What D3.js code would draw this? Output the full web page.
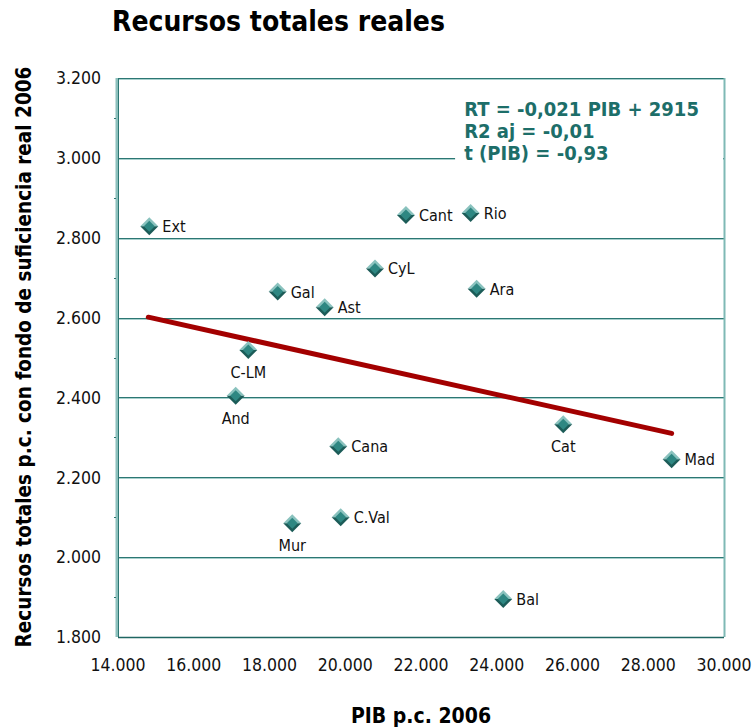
<!DOCTYPE html>
<html>
<head>
<meta charset="utf-8">
<script src="https://cdn.jsdelivr.net/npm/d3@7"></script>
<style>
  body { margin: 0; background: #fff; }
  svg text { font-family: "DejaVu Sans Condensed", "DejaVu Sans", sans-serif; }
</style>
</head>
<body>
<div id="chart"></div>
<script>
// regions (comunidades autónomas)
var regions = ["Ext", "Gal", "Ast", "C-LM", "And", "Cana", "CyL", "Cant", "Rio", "Ara", "Cat", "Mad", "Mur", "C.Val", "Bal"];
var pib     = [14826, 18216, 19457, 17440, 17107, 19816, 20785, 21603, 23311, 23469, 25756, 28617, 18601, 19879, 24172];
var recursos = [2829, 2665, 2626, 2519, 2404, 2278, 2723, 2857, 2862, 2672, 2333, 2245, 2085, 2100, 1895];
var labelBelow = ["C-LM", "And", "Cat", "Mur"];
// regression line ends
var trendX = [14800, 28617];
var trendY = [2601, 2310];
var xTicks = [14000, 16000, 18000, 20000, 22000, 24000, 26000, 28000, 30000];
var yTicks = [1800, 2000, 2200, 2400, 2600, 2800, 3000, 3200];
var eqLines = ["RT = -0,021 PIB + 2915", "R2 aj = -0,01", "t (PIB) = -0,93"];

var data = regions.map(function (r, i) { return { name: r, x: pib[i], y: recursos[i] }; });

var W = 753, H = 728,
    margin = { top: 78, right: 29, bottom: 91, left: 118 },
    width = W - margin.left - margin.right,
    height = H - margin.top - margin.bottom;

var svg = d3.select("#chart").append("svg")
    .attr("width", W)
    .attr("height", H);

var g = svg.append("g")
    .attr("transform", "translate(" + margin.left + "," + margin.top + ")");

var x = d3.scaleLinear().domain([14000, 30000]).range([0, width]);
var y = d3.scaleLinear().domain([1800, 3200]).range([height, 0]);
var fmt = function (v) { return d3.format(",.3f")(v / 1000).replace(",", "."); };

// grid lines (dark line with a light shadow under it)
yTicks.forEach(function (t) {
    if (t == 1800) return;
    g.append("line")
        .attr("x1", 0).attr("x2", width)
        .attr("y1", Math.round(y(t)) + 1.5).attr("y2", Math.round(y(t)) + 1.5)
        .attr("stroke", "#a8d0cd").attr("stroke-width", 1);
    g.append("line")
        .attr("x1", 0).attr("x2", width)
        .attr("y1", Math.round(y(t)) + 0.5).attr("y2", Math.round(y(t)) + 0.5)
        .attr("stroke", "#2c7773").attr("stroke-width", 1);
});

// frame
g.append("line").attr("x1", width + 0.5).attr("x2", width + 0.5).attr("y1", 0).attr("y2", height)
    .attr("stroke", "#7fb9b5").attr("stroke-width", 2);
g.append("line").attr("x1", -1).attr("x2", -1).attr("y1", 0).attr("y2", height)
    .attr("stroke", "#8cc0bc").attr("stroke-width", 3);
g.append("line").attr("x1", 0.5).attr("x2", 0.5).attr("y1", 0).attr("y2", height)
    .attr("stroke", "#2c7773").attr("stroke-width", 1);
g.append("line").attr("x1", 0).attr("x2", width).attr("y1", Math.round(y(1800)) + 0.5).attr("y2", Math.round(y(1800)) + 0.5)
    .attr("stroke", "#1f6662").attr("stroke-width", 1.5);

// small minor ticks on the left axis
d3.range(1900, 3200, 200).forEach(function (t) {
    g.append("line").attr("x1", -4).attr("x2", -2)
        .attr("y1", Math.round(y(t)) + 0.5).attr("y2", Math.round(y(t)) + 0.5)
        .attr("stroke", "#2c7773");
});

// axis tick labels
g.append("g").selectAll("text").data(yTicks).enter().append("text")
    .attr("x", -17).attr("y", function (d) { return y(d); })
    .attr("dy", "0.36em")
    .attr("text-anchor", "end")
    .style("font-size", "17.5px")
    .attr("fill", "#111")
    .text(fmt);

g.append("g").selectAll("text").data(xTicks).enter().append("text")
    .attr("x", function (d) { return x(d); }).attr("y", height + 34)
    .attr("text-anchor", "middle")
    .style("font-size", "17.5px")
    .attr("fill", "#111")
    .text(fmt);

// equation box
var eq = g.append("g");
eq.append("rect")
    .attr("x", x(22900)).attr("y", 16).attr("width", width - x(22900) - 1).attr("height", 74)
    .attr("fill", "#fff");
eq.selectAll("text").data(eqLines).enter().append("text")
    .attr("x", x(23140)).attr("y", function (d, i) { return 38 + i * 22; })
    .style("font-size", "20px").style("font-weight", "bold")
    .attr("fill", "#1d6e69")
    .text(function (d) { return d; });

// trend line
g.append("line")
    .attr("x1", x(trendX[0])).attr("y1", y(trendY[0]))
    .attr("x2", x(trendX[1])).attr("y2", y(trendY[1]))
    .attr("stroke", "#a30000").attr("stroke-width", 5).attr("stroke-linecap", "round");

// points (beveled diamonds)
var s = 9;
var pts = g.append("g").selectAll("g").data(data).enter().append("g")
    .attr("transform", function (d) { return "translate(" + x(d.x) + "," + y(d.y) + ")"; });
pts.append("path").attr("d", "M" + (-s) + ",0L0," + (-s) + "L" + s + ",0Z").attr("fill", "#8ac2be");
pts.append("path").attr("d", "M" + (-s) + ",0L0," + s + "L" + s + ",0Z").attr("fill", "#1c5c58");
pts.append("path").attr("d", "M-5.5,0L0,-5.5L5.5,0L0,5.5Z").attr("fill", "#2e8782");

pts.append("text")
    .attr("x", function (d) { return labelBelow.indexOf(d.name) >= 0 ? 0 : 13; })
    .attr("y", function (d) { return labelBelow.indexOf(d.name) >= 0 ? 28 : 6; })
    .attr("text-anchor", function (d) { return labelBelow.indexOf(d.name) >= 0 ? "middle" : "start"; })
    .style("font-size", "16px")
    .attr("fill", "#111")
    .text(function (d) { return d.name; });

// titles
svg.append("text")
    .attr("x", 112).attr("y", 31)
    .style("font-size", "28px").style("font-weight", "bold")
    .attr("fill", "#000")
    .text("Recursos totales reales");

svg.append("text")
    .attr("x", 421).attr("y", 723)
    .attr("text-anchor", "middle")
    .style("font-size", "21px").style("font-weight", "bold")
    .attr("fill", "#000")
    .text("PIB p.c. 2006");

svg.append("text")
    .attr("transform", "translate(31," + 357 + ") rotate(-90)")
    .attr("text-anchor", "middle")
    .style("font-size", "20.5px").style("font-weight", "bold")
    .attr("fill", "#000")
    .text("Recursos totales p.c. con fondo de suficiencia real 2006");
</script>
</body>
</html>
